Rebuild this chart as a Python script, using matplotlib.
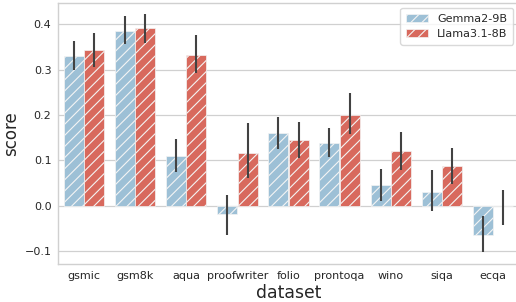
import matplotlib
matplotlib.use("Agg")
import matplotlib.pyplot as plt
import numpy as np
from matplotlib.patches import Patch

datasets = ["gsmic", "gsm8k", "aqua", "proofwriter", "folio", "prontoqa", "wino", "siqa", "ecqa"]
models = ["Gemma2-9B", "Llama3.1-8B"]
gemma = [0.331, 0.386, 0.109, -0.019, 0.160, 0.138, 0.046, 0.030, -0.065]
gemma_lo = [0.300, 0.357, 0.073, -0.066, 0.124, 0.107, 0.011, -0.013, -0.103]
gemma_hi = [0.363, 0.419, 0.147, 0.024, 0.196, 0.171, 0.080, 0.078, -0.022]
llama = [0.344, 0.391, 0.333, 0.117, 0.144, 0.200, 0.121, 0.088, -0.002]
llama_lo = [0.305, 0.358, 0.292, 0.060, 0.105, 0.158, 0.079, 0.048, -0.042]
llama_hi = [0.380, 0.422, 0.377, 0.182, 0.185, 0.249, 0.162, 0.126, 0.035]

colors = ["#9dc0d6", "#d8695d"]
text_c = "#262626"
grid_c = "#d0d0d0"

plt.rcParams["hatch.linewidth"] = 0.8
fig = plt.figure(figsize=(5.16, 3.02), dpi=100)
W, H = 516, 302
ax_left, ax_right, ax_top, ax_bot = 58.4, 518.6, 3, 264
ax = fig.add_axes([ax_left / W, (H - ax_bot) / H, (ax_right - ax_left) / W, (ax_bot - ax_top) / H])

x = np.arange(len(datasets))
bw = 0.39
series = [(gemma, gemma_lo, gemma_hi), (llama, llama_lo, llama_hi)]
for i, (vals, lo, hi) in enumerate(series):
    xs = x - 0.2 + i * 0.4
    ax.bar(xs, vals, width=bw, color=colors[i], edgecolor="#f4f4f4", linewidth=0.5,
           hatch="///", zorder=2)
    ax.vlines(xs, lo, hi, color="#424242", linewidth=1.5, zorder=3)

ax.set_xlim(-0.5, len(datasets) - 0.5)
ax.set_ylim(-0.129, 0.447)
ax.set_yticks([-0.1, 0.0, 0.1, 0.2, 0.3, 0.4])
ax.set_xticks(x)
ax.set_xticklabels(datasets)
ax.tick_params(axis="both", length=0, labelsize=8, colors=text_c)
ax.tick_params(axis="y", pad=5)
ax.tick_params(axis="x", pad=5)
ax.yaxis.grid(True, color=grid_c, linewidth=0.9, zorder=0)
ax.xaxis.grid(False)
ax.set_axisbelow(True)
for s in ax.spines.values():
    s.set_color(grid_c)
    s.set_linewidth(1.0)

ax.set_xlabel("dataset", fontsize=12.4, color=text_c, labelpad=2)
ax.set_ylabel("score", fontsize=12, color=text_c, labelpad=3)

handles = [Patch(facecolor=colors[i], edgecolor="#f4f4f4", hatch="///", linewidth=0.5, label=models[i])
           for i in range(2)]
leg = ax.legend(handles=handles, loc="upper right", bbox_to_anchor=(513 / W, 294 / H),
                bbox_transform=fig.transFigure, borderaxespad=0, fontsize=8, frameon=True,
                fancybox=True, framealpha=0.8, edgecolor=grid_c, borderpad=0.5)
for t in leg.get_texts():
    t.set_color(text_c)

fig.savefig("out.png", dpi=100)
